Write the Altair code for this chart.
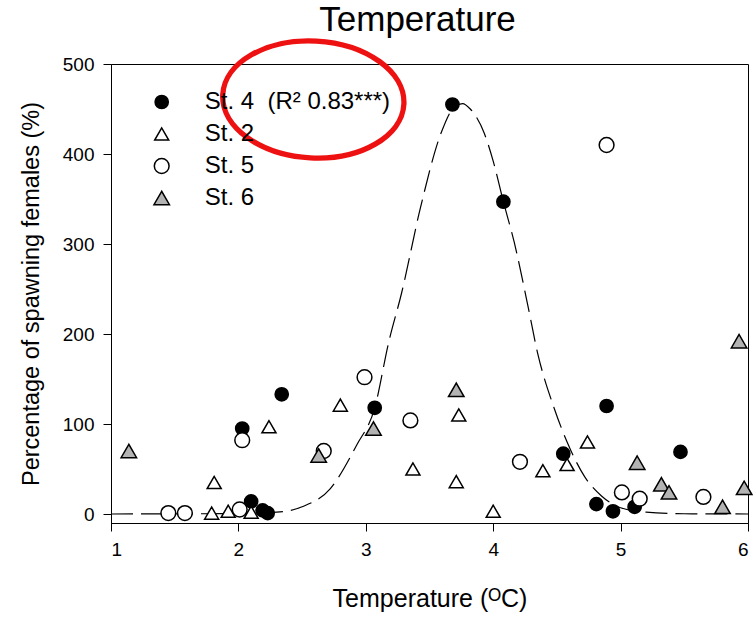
import altair as alt
import pandas as pd

# ---- data ----
st4_x = [2.03, 2.10, 2.19, 2.23, 2.34, 3.07, 3.68, 4.08, 4.55, 4.81, 4.89, 4.94, 5.11, 5.47]
st4_y = [95, 14, 4, 1, 133, 118, 455, 347, 67, 11, 120, 3, 8, 69]

st2_x = [1.79, 1.81, 1.92, 2.10, 2.24, 2.80, 3.37, 3.71, 3.73, 4.00, 4.39, 4.58, 4.74]
st2_y = [1, 35, 3, 2, 97, 121, 50, 36, 110, 3, 48, 55, 80]

st5_x = [1.45, 1.58, 2.01, 2.03, 2.67, 2.99, 3.35, 4.21, 4.89, 5.01, 5.15, 5.65]
st5_y = [1, 1, 5, 82, 70, 152, 104, 58, 410, 24, 17, 19]

st6_x = [1.14, 2.63, 3.06, 3.71, 5.13, 5.32, 5.38, 5.80, 5.93, 5.97]
st6_y = [70, 65, 95, 138, 57, 33, 24, 8, 192, 29]

# fitted curve for St. 4
curve_x = [1.0, 2.0, 2.3, 2.5, 2.72, 2.93, 3.07, 3.18, 3.28, 3.43, 3.59, 3.70, 3.76,
           3.82, 3.93, 4.0, 4.08, 4.165, 4.27, 4.35, 4.48, 4.58, 4.72, 4.85, 5.0, 5.2, 5.5, 6.0]
curve_y = [0, 0.5, 2, 8, 28, 77, 118, 191, 245, 341, 423, 453, 456,
           450, 423, 392, 347, 302, 233, 178, 117, 80, 41, 20, 7, 2, 0.3, 0]

label4 = "St. 4\u00a0\u00a0(R\u00b2 0.83***)"
station_names = [label4, "St. 2", "St. 5", "St. 6"]
station_shapes = ["circle", "triangle-up", "circle", "triangle-up"]
station_fills = ["black", "white", "white", "#b3b3b3"]
station_strokes = ["black", "black", "black", "black"]
station_sizes = [175, 240, 175, 240]

# annotation ellipse (red ring drawn on the figure)
ring_x = [2.588]
ring_y = [460.6]

rows = []
for name, xs, ys in [(label4, st4_x, st4_y), ("St. 2", st2_x, st2_y),
                     ("St. 5", st5_x, st5_y), ("St. 6", st6_x, st6_y)]:
    for x, y in zip(xs, ys):
        rows.append({"station": name, "temp": x, "pct": y})
points = pd.DataFrame(rows)
curve = pd.DataFrame({"temp": curve_x, "pct": curve_y})
ring = pd.DataFrame({"temp": ring_x, "pct": ring_y})

FONT = "Liberation Sans"

xscale = alt.Scale(domain=[1, 6], nice=False, zero=False)
yscale = alt.Scale(domain=[-10, 500], nice=False, zero=False)

xaxis = alt.Axis(values=[1, 2, 3, 4, 5, 6], format="d", title="Temperature (\u1d3cC)",
                 titlePadding=27, titleFontSize=25)
yaxis = alt.Axis(values=[0, 100, 200, 300, 400, 500], format="d",
                 title="Percentage of spawning females (%)", titlePadding=19, titleFontSize=23.5)

legend = alt.Legend(orient="none", legendX=38.7, legendY=26, title=None,
                    labelFontSize=24, labelFont=FONT, labelColor="black", labelLimit=0,
                    symbolStrokeColor="black", symbolStrokeWidth=1.5,
                    rowPadding=8, labelOffset=31, padding=0)

curve_layer = alt.Chart(curve).mark_line(
    color="black", strokeWidth=1.2, strokeDash=[22, 8], interpolate="monotone"
).encode(
    x=alt.X("temp:Q", scale=xscale, axis=xaxis),
    y=alt.Y("pct:Q", scale=yscale, axis=yaxis),
)

point_layer = alt.Chart(points).mark_point(
    filled=True, strokeWidth=1.5, opacity=1, fillOpacity=1, strokeOpacity=1
).encode(
    x=alt.X("temp:Q", scale=xscale),
    y=alt.Y("pct:Q", scale=yscale),
    shape=alt.Shape("station:N", scale=alt.Scale(domain=station_names, range=station_shapes), legend=legend),
    fill=alt.Fill("station:N", scale=alt.Scale(domain=station_names, range=station_fills), legend=legend),
    stroke=alt.Stroke("station:N", scale=alt.Scale(domain=station_names, range=station_strokes), legend=legend),
    size=alt.Size("station:N", scale=alt.Scale(domain=station_names, range=station_sizes), legend=legend),
)

ellipse_path = ("M1,0 C1,0.3562 0.5523,0.645 0,0.645 C-0.5523,0.645 -1,0.3562 -1,0 "
                "C-1,-0.3562 -0.5523,-0.645 0,-0.645 C0.5523,-0.645 1,-0.3562 1,0 Z")
ring_layer = alt.Chart(ring).mark_point(
    shape=ellipse_path, size=32906, filled=False, stroke="#ee1111", strokeWidth=5.3,
    opacity=1, angle=3
).encode(
    x=alt.X("temp:Q", scale=xscale),
    y=alt.Y("pct:Q", scale=yscale),
)

chart = alt.layer(curve_layer, point_layer, ring_layer).properties(
    width=637, height=459,
    background="white",
    autosize=alt.AutoSizeParams(type="none"),
    padding={"left": 111, "top": 64, "right": 8, "bottom": 94},
    title=alt.TitleParams("Temperature", fontSize=35, font=FONT, fontWeight="normal",
                          color="black", anchor="middle", dx=-12, offset=-36,
                          baseline="alphabetic", frame="group"),
).configure_view(
    stroke="black", strokeWidth=1
).configure_axis(
    grid=False, labelFont=FONT, labelFontSize=19, labelColor="black",
    titleFont=FONT, titleFontSize=24, titleFontWeight="normal", titleColor="black",
    domainColor="black", domainWidth=1, tickColor="black", tickSize=8, tickWidth=1,
    labelPadding=9
)

chart.save("out.html", embed_options={"renderer": "svg", "actions": False})
